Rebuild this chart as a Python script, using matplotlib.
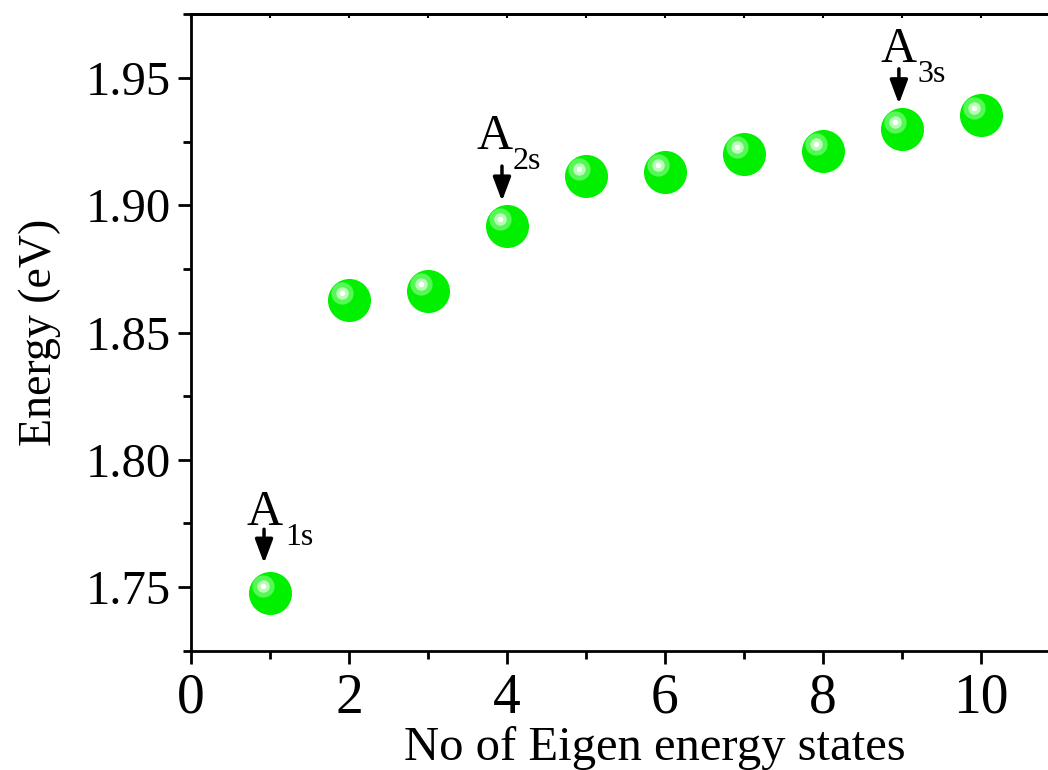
import matplotlib
matplotlib.use('Agg')
import matplotlib.pyplot as plt
import matplotlib.transforms as mtransforms
from matplotlib.ticker import MultipleLocator, FormatStrFormatter

plt.rcParams['font.family'] = ['Liberation Serif', 'DejaVu Serif']

states = [1, 2, 3, 4, 5, 6, 7, 8, 9, 10]
energy = [1.7476, 1.8628, 1.8663, 1.8918, 1.9115, 1.9131, 1.9201, 1.9213, 1.9300, 1.9355]

# labelled states
label_states = [1, 4, 9]
label_main = ['A', 'A', 'A']
label_sub = ['1s', '2s', '3s']

# pixel offsets from the point: (A x, A y, sub x, sub y, arrow x, arrow top, arrow tip)
label_offsets = [(-5, 68, 15, 48, -6, 64, 30),
                 (-12, 77, 6, 57, -5, 60, 25),
                 (-3, 67, 16, 47, -3, 60, 25)]

fig = plt.figure(figsize=(10.48, 7.70), dpi=100)
ax = fig.add_axes([0.1823, 0.1545, 0.8177, 0.8273])


def shifted(dx, dy):
    return mtransforms.offset_copy(ax.transData, fig=fig, x=dx, y=dy, units='dots')


# sphere-like markers: base + highlight layers offset up-left
ax.plot(states, energy, 'o', ms=31, color='#00f000', mec='none', zorder=3)
hl = shifted(-7, 7)
ax.plot(states, energy, 'o', ms=16, color='#55f855', mec='none', transform=hl, zorder=4)
ax.plot(states, energy, 'o', ms=9, color='#b8fcb8', mec='none', transform=hl, zorder=5)
ax.plot(states, energy, 'o', ms=4, color='white', mec='none', transform=hl, zorder=6)

for i, st in enumerate(label_states):
    y = energy[st - 1]
    ax_, ay, sx, sy, arx, atop, atip = label_offsets[i]
    ax.annotate('', xy=(st, y), xytext=(st, y),
                xycoords=shifted(arx, atip), textcoords=shifted(arx, atop),
                arrowprops=dict(arrowstyle='-|>,head_length=0.8,head_width=0.3',
                                color='black', lw=2.5, mutation_scale=18,
                                shrinkA=0, shrinkB=0))
    ax.text(st, y, label_main[i], fontsize=36, ha='center', va='baseline',
            transform=shifted(ax_, ay))
    ax.text(st, y, label_sub[i], fontsize=23, ha='left', va='baseline',
            transform=shifted(sx, sy))

ax.set_xlim(0, 10.85)
ax.set_ylim(1.7249, 1.9751)
ax.xaxis.set_major_locator(MultipleLocator(2))
ax.xaxis.set_minor_locator(MultipleLocator(1))
ax.yaxis.set_major_locator(MultipleLocator(0.05))
ax.yaxis.set_minor_locator(MultipleLocator(0.025))
ax.yaxis.set_major_formatter(FormatStrFormatter('%.2f'))

ax.spines['right'].set_visible(False)
for s in ['left', 'bottom', 'top']:
    ax.spines[s].set_linewidth(2)
ax.tick_params(which='major', direction='out', length=9.5, width=2, pad=5)
ax.tick_params(which='minor', direction='out', length=5.5, width=2)
ax.tick_params(axis='x', labelsize=40, pad=6)
ax.tick_params(axis='y', labelsize=35, pad=5)

# small inward ticks along the top spine
top = ax.secondary_xaxis('top')
top.xaxis.set_major_locator(MultipleLocator(2))
top.xaxis.set_minor_locator(MultipleLocator(1))
top.tick_params(which='both', direction='in', length=3, width=1.5, labeltop=False)
top.spines['top'].set_linewidth(2)

ax.set_xlabel('No of Eigen energy states', fontsize=35, labelpad=0)
ax.xaxis.set_label_coords(0.541, -0.118)
ax.set_ylabel('Energy (eV)', fontsize=33, labelpad=18)

fig.savefig('out.png', dpi=100)
